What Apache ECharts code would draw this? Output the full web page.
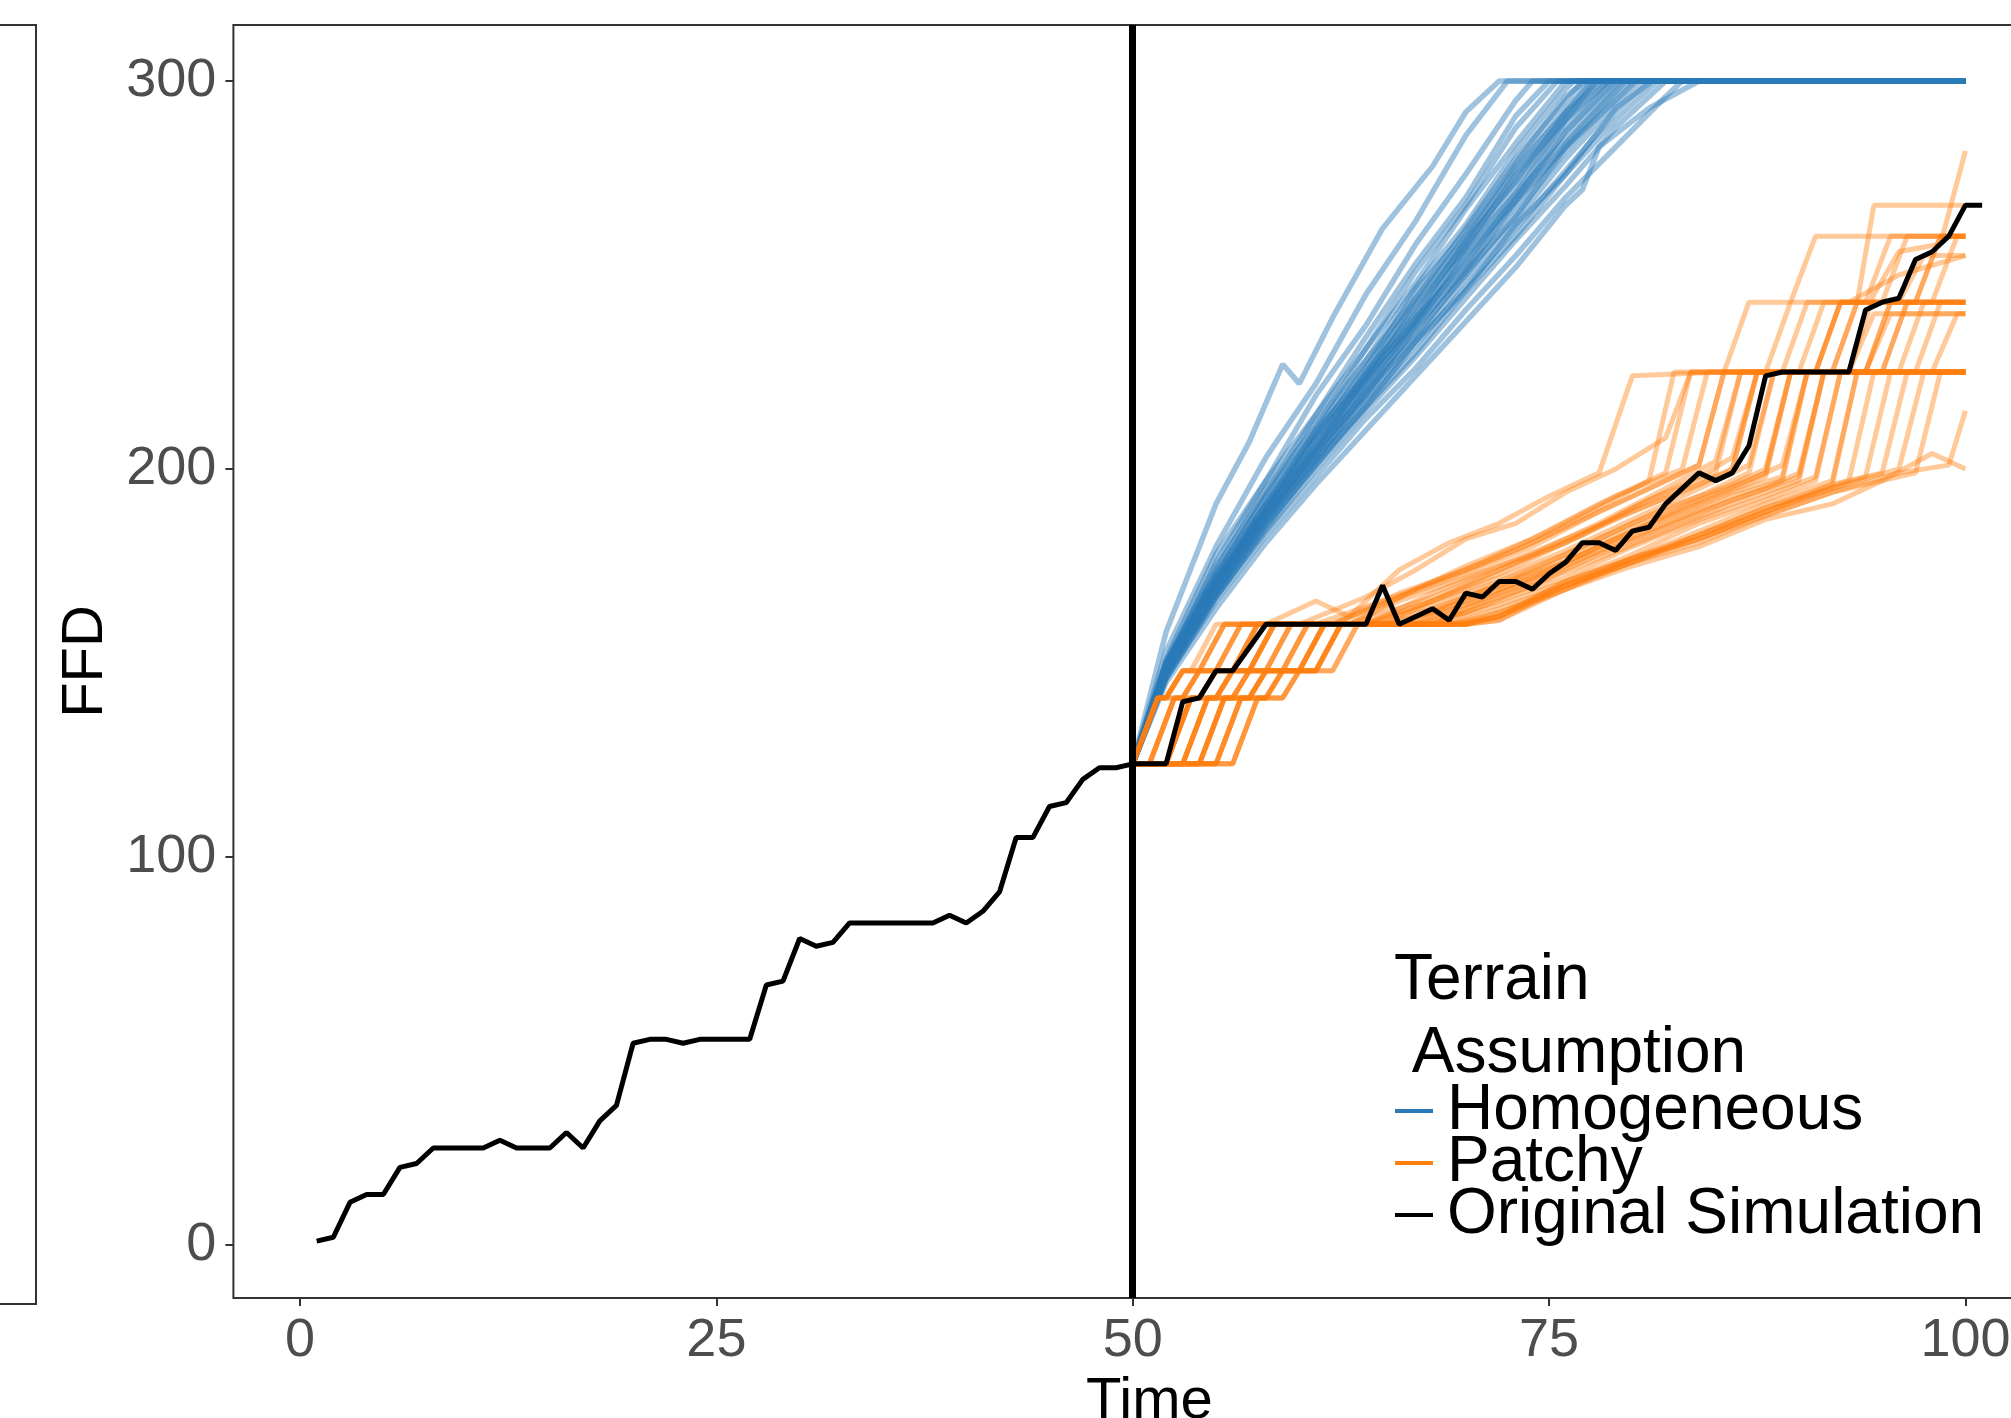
<!DOCTYPE html>
<html>
<head>
<meta charset="utf-8">
<script src="https://cdn.jsdelivr.net/npm/echarts@6/dist/echarts.min.js"></script>
<style>
  html, body { margin: 0; padding: 0; background: #fff; }
  #chart { width: 2011px; height: 1418px; }
</style>
</head>
<body>
<div id="chart"></div>
<script>
// original simulation, one value per time step starting at t = 1
var originalStart = 1;
var originalFFD = [
    1, 2, 11, 13, 13, 20, 21, 25, 25, 25,
    25, 27, 25, 25, 25, 29, 25, 32, 36, 52,
    53, 53, 52, 53, 53, 53, 53, 67, 68, 79,
    77, 78, 83, 83, 83, 83, 83, 83, 85, 83,
    86, 91, 105, 105, 113, 114, 120, 123, 123, 124,
    124, 124, 140, 141, 148, 148, 154, 160, 160, 160,
    160, 160, 160, 160, 170, 160, 162, 164, 161, 168,
    167, 171, 171, 169, 173, 176, 181, 181, 179, 184,
    185, 191, 195, 199, 197, 199, 206, 224, 225, 225,
    225, 225, 225, 241, 243, 244, 254, 256, 260, 268,
    268
];

var splitTime = 50;

// homogeneous terrain runs: [time, FFD] vertices
var homogeneousRuns = [
    [[50,124],[52,158],[55,191],[57,207],[59,227],[60,222],[62,239],[65,262],[68,278],[70,292],[72,300],[100,300]],
    [[50,124],[52,153],[55,180],[58,203],[61,222],[64,245],[67,264],[70,286],[72.5,300],[100,300]],
    [[50,124],[52,151],[55,178],[58,197],[61,219],[64,237],[67,258],[70,276],[73,295],[74,300],[100,300]],
    [[50,124],[52,150],[55,176],[58,197],[61,214],[64,234],[67,253],[70,270],[73,291],[75,300],[100,300]],
    [[50,124],[52,150],[55,175],[58,194],[61,214],[64,231],[67,251],[70,268],[73,288],[75.5,300],[100,300]],
    [[50,124],[52,150],[55,174],[58,195],[61,211],[64,231],[67,248],[70,267],[73,284],[76,300],[100,300]],
    [[50,124],[52,150],[55,173],[58,193],[61,212],[64,228],[67,247],[70,263],[73,282],[76,298],[76.5,300],[100,300]],
    [[50,124],[52,149],[55,173],[58,191],[61,210],[64,228],[67,244],[70,262],[73,280],[76,295],[77,300],[100,300]],
    [[50,124],[52,148],[55,172],[58,193],[61,209],[64,226],[67,246],[70,261],[73,279],[76,296],[77.2,300],[100,300]],
    [[50,124],[52,149],[55,172],[58,191],[61,209],[64,226],[67,243],[70,260],[73,277],[76,293],[77.5,300],[100,300]],
    [[50,124],[52,150],[55,171],[58,190],[61,210],[64,224],[67,244],[70,259],[73,278],[76,292],[77.6,300],[100,300]],
    [[50,124],[52,149],[55,171],[58,190],[61,208],[64,224],[67,241],[70,258],[73,275],[76,291],[78,300],[100,300]],
    [[50,124],[52,147],[55,170],[58,191],[61,206],[64,225],[67,240],[70,259],[73,274],[76,292],[78.2,300],[100,300]],
    [[50,124],[52,150],[55,172],[58,189],[61,208],[64,223],[67,242],[70,257],[73,276],[76,290],[77.8,300],[100,300]],
    [[50,124],[52,149],[55,171],[58,189],[61,207],[64,223],[67,239],[70,256],[73,273],[76,289],[78.5,300],[100,300]],
    [[50,124],[52,148],[55,170],[58,190],[61,205],[64,224],[67,238],[70,257],[73,271],[76,290],[78.6,300],[100,300]],
    [[50,124],[52,148],[55,170],[58,189],[61,205],[64,222],[67,238],[70,254],[73,270],[76,287],[79,300],[100,300]],
    [[50,124],[52,149],[55,169],[58,187],[61,206],[64,221],[67,239],[70,253],[73,271],[76,285],[79.2,300],[100,300]],
    [[50,124],[52,147],[55,171],[58,188],[61,204],[64,222],[67,237],[70,255],[73,269],[76,287],[78.8,300],[100,300]],
    [[50,124],[52,148],[55,170],[58,188],[61,204],[64,220],[67,236],[70,252],[73,268],[76,284],[79,298],[79.5,300],[100,300]],
    [[50,124],[52,147],[55,169],[58,187],[61,205],[64,219],[67,237],[70,251],[73,269],[76,283],[79.6,300],[100,300]],
    [[50,124],[52,148],[55,169],[58,187],[61,203],[64,219],[67,235],[70,250],[73,266],[76,282],[79,296],[80,300],[100,300]],
    [[50,124],[52,147],[55,168],[58,188],[61,202],[64,220],[67,234],[70,251],[73,265],[76,283],[79,295],[80.2,300],[100,300]],
    [[50,124],[52,147],[55,168],[58,186],[61,203],[64,218],[67,233],[70,249],[73,264],[76,280],[79,294],[80.5,300],[100,300]],
    [[50,124],[52,147],[55,168],[58,186],[61,201],[64,217],[67,232],[70,247],[73,262],[76,277],[79,292],[81,300],[100,300]],
    [[50,124],[52,146],[55,167],[58,185],[61,202],[64,216],[67,233],[70,246],[73,263],[76,276],[79,293],[81.2,300],[100,300]],
    [[50,124],[52,147],[55,167],[58,185],[61,201],[64,216],[67,230],[70,246],[73,260],[76,276],[79,290],[81.5,300],[100,300]],
    [[50,124],[52,146],[55,167],[58,184],[61,200],[64,215],[67,229],[70,244],[73,259],[76,273],[79,288],[82,300],[100,300]],
    [[50,124],[52,146],[55,166],[58,183],[61,198],[64,213],[67,226],[70,241],[73,255],[76,270],[79,283],[82,296],[83,300],[100,300]],
    [[50,124],[52,145],[55,164],[58,181],[61,196],[64,210],[67,224],[70,238],[73,252],[76,268],[77,272],[78,283],[81,293],[84,300],[100,300]]
];

// patchy terrain runs: [time, FFD] vertices
var patchyRuns = [
    [[50,124],[51.5,141],[52,141],[53,148],[54,148],[55.5,160],[62,160],[66,167],[70,173],[74,180],[78,189],[82,197],[84,201],[85.5,225],[91,225],[92.5,243],[100,243]],
    [[50,124],[51.5,141],[53,141],[54,148],[55,148],[56.5,160],[63,160],[66,166],[70,172],[74,178],[78,186],[82,195],[85,202],[86.5,225],[100,225]],
    [[50,124],[51,124],[52.5,141],[53,141],[54,148],[56,148],[57.5,160],[63,160],[68,167],[72,174],[76,181],[80,190],[84,198],[86,203],[87.5,225],[94,225],[95.5,243],[97,243],[98.5,260],[100,260]],
    [[50,124],[51,124],[52.5,141],[54,141],[55,148],[56,148],[57.5,160],[64,160],[68,166],[72,172],[76,179],[80,187],[84,195],[87,201],[88.5,225],[100,225]],
    [[50,124],[52,124],[53.5,141],[54,141],[55,148],[57,148],[58.5,160],[64,160],[68,165],[72,171],[76,178],[80,186],[84,193],[87,199],[88.5,225],[92,225],[93.5,243],[100,243]],
    [[50,124],[52,124],[53.5,141],[55,141],[56,148],[57,148],[58.5,160],[65,160],[68,164],[72,170],[76,177],[80,185],[84,192],[88,199],[89.5,225],[100,225]],
    [[50,124],[53,124],[54.5,141],[55,141],[56,148],[58,148],[59.5,160],[65,160],[68,163],[72,170],[76,176],[80,184],[84,191],[88,198],[89.5,225],[95,225],[96.5,243],[100,243]],
    [[50,124],[53,124],[54.5,141],[56,141],[57,148],[58,148],[59.5,160],[66,160],[70,166],[74,172],[78,180],[82,187],[86,194],[89,198],[90.5,225],[100,225]],
    [[50,124],[54,124],[55.5,141],[56,141],[57,148],[59,148],[60.5,160],[66,160],[70,165],[74,171],[78,179],[82,186],[86,193],[89,197],[90.5,225],[94,225],[95.5,240],[100,240]],
    [[50,124],[54,124],[55.5,141],[57,141],[58,148],[59,148],[60.5,160],[67,160],[70,164],[74,170],[78,178],[82,185],[86,192],[90,198],[91.5,225],[100,225]],
    [[50,124],[55,124],[56.5,141],[57,141],[58,148],[60,148],[61.5,160],[67,160],[70,163],[74,170],[78,177],[82,184],[86,191],[90,197],[91.5,225],[96,225],[97.5,243],[100,243]],
    [[50,124],[55,124],[56.5,141],[58,141],[59,148],[60,148],[61.5,160],[68,160],[72,166],[76,172],[80,180],[84,187],[88,193],[91,198],[92.5,225],[100,225]],
    [[50,124],[56,124],[57.5,141],[58,141],[59,148],[61,148],[62.5,160],[68,160],[72,165],[76,171],[80,178],[84,186],[88,192],[91,197],[92.5,225],[97,225],[98.5,243],[100,243]],
    [[50,124],[56,124],[57.5,141],[59,141],[60,148],[61,148],[62.5,160],[69,160],[72,164],[76,170],[80,177],[84,184],[88,191],[92,197],[93.5,225],[100,225]],
    [[50,124],[51.5,141],[53,141],[54,148],[56,148],[57.5,160],[69,160],[72,163],[76,170],[80,176],[84,183],[88,190],[92,196],[93.5,225],[98,225],[99.5,240],[100,240]],
    [[50,124],[51,124],[52.5,141],[54,141],[55,148],[57,148],[58.5,160],[70,160],[72,163],[76,169],[80,176],[84,182],[88,189],[93,197],[94.5,225],[100,225]],
    [[50,124],[52,124],[53.5,141],[56,141],[57,148],[59,148],[60.5,160],[70,160],[72,162],[76,169],[80,177],[84,183],[88,190],[92,195],[94,198],[95.5,225],[100,225]],
    [[50,124],[53,124],[54.5,141],[57,141],[58,148],[60,148],[61.5,160],[70,160],[72,162],[76,171],[80,177],[84,182],[88,189],[92,196],[95,199],[96.5,225],[100,225]],
    [[50,124],[54,124],[55.5,141],[58,141],[59,148],[61,148],[62.5,160],[70,160],[72,161],[76,170],[80,176],[84,183],[88,189],[92,195],[96,200],[97.5,225],[100,225]],
    [[50,124],[55,124],[56.5,141],[59,141],[60,148],[62,148],[63.5,160],[70,160],[72,162],[76,171],[80,177],[84,182],[88,188],[92,194],[97,199],[98.5,225],[100,225]],
    [[50,124],[51.5,141],[52,141],[53,148],[55,148],[56.5,160],[62,160],[66,168],[70,174],[74,181],[78,190],[81,197],[82.5,225],[88,225],[89.5,243],[94,243],[95.5,260],[100,260]],
    [[50,124],[51,124],[52.5,141],[53,141],[54,148],[55,148],[56.5,160],[62,160],[66,167],[70,175],[74,182],[78,191],[82,199],[83.5,225],[90,225],[91.5,243],[95,243],[96.5,260],[100,260]],
    [[50,124],[52,124],[53.5,141],[54,141],[55,148],[56,148],[57.5,160],[63,160],[67,169],[71,176],[75,184],[79,193],[83,200],[84.5,225],[91,225],[92.5,243],[97,243],[98.5,260],[100,260]],
    [[50,124],[51.5,141],[52,141],[53,148],[54,148],[55.5,160],[61,160],[65,166],[69,172],[73,179],[77,187],[81,195],[84,201],[85.5,225],[89,225],[90.5,243],[93,243],[96,250],[100,255]],
    [[50,124],[51.5,141],[52,141],[53,148],[53.5,148],[55,160],[58,160],[61,166],[63,162],[66,174],[69,181],[72,186],[75,193],[78,199],[80,224],[85.5,225],[87,243],[89.5,243],[91,260],[100,260]],
    [[50,124],[51.5,141],[52,141],[53,148],[54,148],[55.5,160],[60,160],[64,167],[67,174],[70,182],[73,186],[76,194],[79,200],[82,208],[83.5,225],[92,225],[93.5,243],[94.5,268],[100,268]],
    [[50,124],[52,124],[53.5,141],[55,141],[56,148],[57,148],[58.5,160],[64,160],[68,168],[72,175],[76,182],[80,189],[84,196],[86,200],[87.5,225],[93,225],[94.5,245],[96,256],[98.5,258],[100,282]],
    [[50,124],[53,124],[54.5,141],[56,141],[57,148],[60,148],[61.5,160],[70,160],[72,161],[76,169],[80,175],[84,180],[88,187],[92,191],[95,197],[98,204],[100,200]],
    [[50,124],[54,124],[55.5,141],[57,141],[58,148],[61,148],[62.5,160],[69,160],[72,162],[76,170],[80,176],[84,181],[88,188],[92,194],[96,199],[99,201],[100,215]],
    [[50,124],[53,124],[54.5,141],[55,141],[56,148],[57,148],[58.5,160],[64,160],[68,166],[72,173],[76,181],[80,189],[84,196],[86,200],[87.5,225],[93,225],[94.5,240],[100,240]],
    [[50,124],[54,124],[55.5,141],[57,141],[58,148],[60,148],[61.5,160],[66,160],[70,167],[74,174],[78,182],[82,190],[86,196],[88,200],[89.5,225],[94,225],[95.5,243],[98,243],[99.5,260],[100,260]],
    [[50,124],[55,124],[56.5,141],[58,141],[59,148],[61,148],[62.5,160],[67,160],[71,167],[75,174],[79,182],[83,190],[87,197],[89,201],[90.5,225],[100,225]],
    [[50,124],[56,124],[57.5,141],[59,141],[60,148],[62,148],[63.5,160],[68,160],[72,168],[76,175],[80,182],[84,189],[88,195],[90,199],[91.5,225],[95,225],[96.5,243],[100,243]],
    [[50,124],[52,124],[53.5,141],[55,141],[56,148],[58,148],[59.5,160],[65,160],[69,168],[73,176],[77,183],[81,192],[85,199],[86.5,225],[91,225],[92.5,243],[96,243],[97.5,255],[100,255]]
];

var xTicks = [0, 25, 50, 75, 100];
var yTicks = [0, 100, 200, 300];
var legendNames = ['Homogeneous', 'Patchy', 'Original Simulation'];

var blue = '#2a7ab9';
var orange = '#ff7f0e';
var font = '"Liberation Sans", Arial, sans-serif';

var myChart = echarts.init(document.getElementById('chart'));

var series = [];
homogeneousRuns.forEach(function (run) {
    series.push({
        type: 'line', name: 'Homogeneous', data: run,
        symbol: 'none', silent: true, z: 2,
        itemStyle: { color: blue },
        lineStyle: { color: blue, width: 5.5, opacity: 0.45 }
    });
});
patchyRuns.forEach(function (run) {
    series.push({
        type: 'line', name: 'Patchy', data: run,
        symbol: 'none', silent: true, z: 3,
        itemStyle: { color: orange },
        lineStyle: { color: orange, width: 5, opacity: 0.42 }
    });
});
series.push({
    type: 'line', name: 'Original Simulation',
    data: originalFFD.map(function (v, i) { return [originalStart + i, v]; }),
    symbol: 'none', silent: true, z: 4,
    itemStyle: { color: '#000' },
    lineStyle: { color: '#000', width: 5 },
    markLine: {
        symbol: 'none', silent: true,
        label: { show: false },
        lineStyle: { color: '#000', width: 7, type: 'solid' },
        data: [{ xAxis: splitTime }]
    }
});

var option = {
    animation: false,
    backgroundColor: '#fff',
    title: {
        text: 'Terrain\n Assumption',
        left: 1394, top: 945, padding: 0,
        textStyle: { fontFamily: font, fontSize: 64, fontWeight: 'normal', color: '#000', lineHeight: 73 }
    },
    legend: {
        orient: 'vertical',
        left: 1395, top: 1079, padding: 0, itemGap: -12,
        selectedMode: false,
        icon: 'rect', itemWidth: 38, itemHeight: 4,
        data: legendNames.map(function (n) { return { name: n, itemStyle: { opacity: 1 } }; }),
        textStyle: { fontFamily: font, fontSize: 64, color: '#000', padding: [0, 0, 0, 9] }
    },
    grid: [
        { left: 233.4, width: 1832, top: 25, height: 1273, outerBoundsMode: 'none', show: true, borderColor: '#333', borderWidth: 2, backgroundColor: 'transparent' },
        { left: -100, width: 136, top: 25, height: 1279, outerBoundsMode: 'none', show: true, borderColor: '#333', borderWidth: 2, backgroundColor: 'transparent' }
    ],
    xAxis: [{
        type: 'value', min: -4, max: 106,
        name: 'Time', nameLocation: 'middle', nameGap: 62,
        nameTextStyle: { fontFamily: font, fontSize: 58, color: '#000' },
        axisLine: { show: false, onZero: false },
        splitLine: { show: false },
        axisTick: { show: true, length: 8, customValues: xTicks, lineStyle: { color: '#333', width: 2 } },
        axisLabel: { customValues: xTicks, margin: 16, fontFamily: font, fontSize: 54, color: '#4d4d4d' }
    }, {
        gridIndex: 1, type: 'value', show: false, min: 0, max: 1
    }],
    yAxis: [{
        type: 'value', min: -13.66, max: 314.43,
        name: 'FFD', nameLocation: 'middle', nameGap: 93, nameRotate: 90,
        nameTextStyle: { fontFamily: font, fontSize: 58, color: '#000' },
        axisLine: { show: false, onZero: false },
        splitLine: { show: false },
        axisTick: { show: true, length: 8, customValues: yTicks, lineStyle: { color: '#333', width: 2 } },
        axisLabel: { customValues: yTicks, margin: 17, fontFamily: font, fontSize: 54, color: '#4d4d4d' }
    }, {
        gridIndex: 1, type: 'value', show: false, min: 0, max: 1
    }],
    series: series
};

myChart.setOption(option);
</script>
</body>
</html>
